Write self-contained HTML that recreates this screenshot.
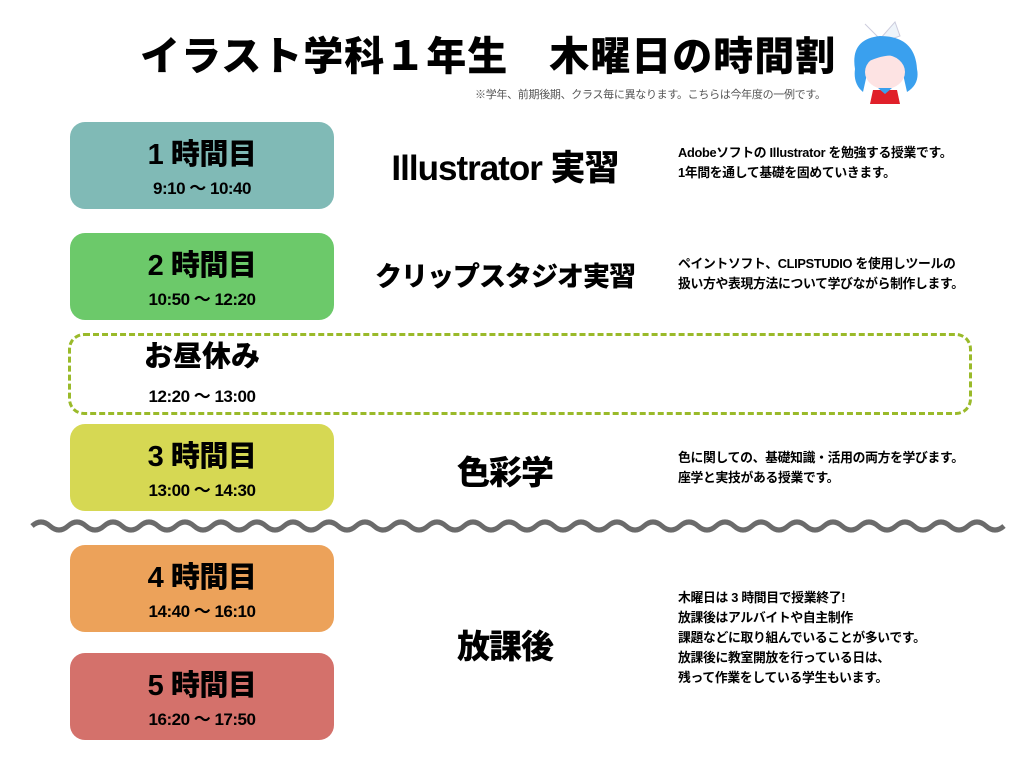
<!DOCTYPE html>
<html><head><meta charset="utf-8"><style>
body{margin:0;width:1024px;height:768px;background:#fff;position:relative;overflow:hidden;font-family:"Liberation Sans","Noto Sans CJK JP",sans-serif;color:#000}
.a{position:absolute}
.box{position:absolute;left:70px;width:264px;height:87px;border-radius:15px;text-align:center}
.box .t{font-size:29px;font-weight:900;line-height:30px;margin-top:18px;letter-spacing:-0.5px}
.box .h{font-size:17px;font-weight:700;line-height:20px;margin-top:9px;letter-spacing:-0.5px}
.sub{position:absolute;font-size:30px;font-weight:900;text-align:center;width:300px;left:355px;letter-spacing:-1px}
.d{position:absolute;left:678px;font-size:12.8px;font-weight:700;line-height:20px;letter-spacing:-0.3px;white-space:nowrap}
</style></head><body>
<div class="a" style="left:140px;top:32px;font-size:40px;font-weight:900;letter-spacing:1px;white-space:nowrap;line-height:50px">イラスト学科１年生　木曜日の時間割</div>
<div class="a" style="left:475px;top:86px;font-size:11px;color:#555;white-space:nowrap;letter-spacing:-0.3px">※学年、前期後期、クラス毎に異なります。こちらは今年度の一例です。</div>
<svg class="a" style="left:845px;top:14px" width="80" height="90" viewBox="0 0 80 90">
<path d="M20 10 L35 25 L50 8 L55 22 L38 28Z" fill="#eef4fa" stroke="#ccd"/>
<path d="M10 55 Q5 25 35 22 Q70 22 72 55 Q75 70 62 78 L58 60 L22 60 L18 78 Q8 70 10 55Z" fill="#3aa0ee"/>
<ellipse cx="40" cy="58" rx="20" ry="17" fill="#fde3e3"/>
<path d="M18 50 Q30 28 60 45 Q45 36 18 50Z" fill="#3aa0ee"/>
<path d="M28 76 L52 76 L55 90 L25 90Z" fill="#e0202a"/>
<path d="M33 74 L47 74 L40 80Z" fill="#3aa0ee"/>
</svg>
<div class="box" style="top:122px;background:#80bab6"><div class="t">1 時間目</div><div class="h">9:10 ～ 10:40</div></div>
<div class="box" style="top:233px;background:#6cc96a"><div class="t">2 時間目</div><div class="h">10:50 ～ 12:20</div></div>
<div class="a" style="left:68px;top:333px;width:898px;height:76px;border:3px dashed #9aba2a;border-radius:16px"></div>
<div class="a" style="left:70px;top:340px;width:264px;text-align:center"><div style="font-size:29px;font-weight:900;line-height:34px">お昼休み</div><div style="font-size:17px;font-weight:700;margin-top:8px;letter-spacing:-0.5px">12:20 ～ 13:00</div></div>
<div class="box" style="top:424px;background:#d6d853"><div class="t">3 時間目</div><div class="h">13:00 ～ 14:30</div></div>
<div class="box" style="top:545px;background:#eca25a"><div class="t">4 時間目</div><div class="h">14:40 ～ 16:10</div></div>
<div class="box" style="top:653px;background:#d4716b"><div class="t">5 時間目</div><div class="h">16:20 ～ 17:50</div></div>
<div class="sub" style="top:140px;font-size:35px">Illustrator 実習</div>
<div class="sub" style="top:255px;font-size:27px">クリップスタジオ実習</div>
<div class="sub" style="top:446px;font-size:33px">色彩学</div>
<div class="sub" style="top:620px;font-size:33px">放課後</div>
<div class="d" style="top:143px">Adobeソフトの Illustrator を勉強する授業です。<br>1年間を通して基礎を固めていきます。</div>
<div class="d" style="top:254px">ペイントソフト、CLIPSTUDIO を使用しツールの<br>扱い方や表現方法について学びながら制作します。</div>
<div class="d" style="top:448px">色に関しての、基礎知識・活用の両方を学びます。<br>座学と実技がある授業です。</div>
<div class="d" style="top:588px">木曜日は 3 時間目で授業終了!<br>放課後はアルバイトや自主制作<br>課題などに取り組んでいることが多いです。<br>放課後に教室開放を行っている日は、<br>残って作業をしている学生もいます。</div>
<svg class="a" style="left:0;top:512px" width="1024" height="28">
<path fill="none" stroke="#6b6b6b" stroke-width="5" d="M32 14 q9 -8 18 0 t18 0 t18 0 t18 0 t18 0 t18 0 t18 0 t18 0 t18 0 t18 0 t18 0 t18 0 t18 0 t18 0 t18 0 t18 0 t18 0 t18 0 t18 0 t18 0 t18 0 t18 0 t18 0 t18 0 t18 0 t18 0 t18 0 t18 0 t18 0 t18 0 t18 0 t18 0 t18 0 t18 0 t18 0 t18 0 t18 0 t18 0 t18 0 t18 0 t18 0 t18 0 t18 0 t18 0 t18 0 t18 0 t18 0 t18 0 t18 0 t18 0 t18 0 t18 0 t18 0 t18 0"/>
</svg>
</body></html>
